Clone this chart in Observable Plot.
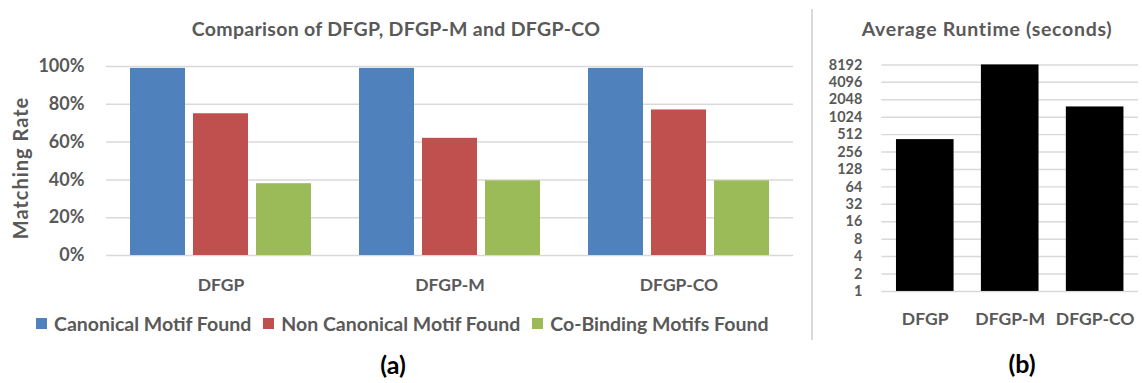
<!DOCTYPE html>
<html>
<head>
<meta charset="utf-8">
<script src="https://cdn.jsdelivr.net/npm/d3@7"></script>
<script src="https://cdn.jsdelivr.net/npm/@observablehq/plot@0.6"></script>
<style>
  html, body { margin: 0; padding: 0; background: #fff; overflow: hidden; }
  #page { position: relative; width: 1142px; height: 383px; overflow: hidden; font-family: Lato, "Open Sans", sans-serif; }
  .abs { position: absolute; white-space: nowrap; line-height: 1; }
  .title { font-weight: 700; color: #595959; transform: translateX(-50%); }
  .panel { font-weight: 700; font-size: 25px; color: #000; transform: translate(-50%, -50%); }
  .ylabel { font-weight: 700; font-size: 20px; letter-spacing: 1px; color: #595959; transform: translate(-50%, -50%) rotate(-90deg); }
  #legend { display: flex; align-items: center; font-weight: 700; font-size: 19.5px; color: #595959; }
  #legend .item { display: flex; align-items: center; margin-right: 12px; }
  #legend .sw { width: 11px; height: 11px; margin-right: 7px; }
  #sep { position: absolute; left: 811px; top: 9px; width: 1.5px; height: 331px; background: #d9d9d9; }
</style>
</head>
<body>
<div id="page">
  <div class="abs title" style="left:396px; top:19px; font-size:19.5px; letter-spacing:0.3px;">Comparison of DFGP, DFGP-M and DFGP-CO</div>
  <div class="abs title" style="left:987px; top:19px; font-size:19.5px; letter-spacing:0.7px;">Average Runtime (seconds)</div>
  <div class="abs ylabel" style="left:20px; top:168px;">Matching Rate</div>
  <div id="left" class="abs" style="left:0; top:0;"></div>
  <div id="right" class="abs" style="left:812px; top:0;"></div>
  <div id="sep"></div>
  <div id="legend" class="abs" style="left:36px; top:313.5px;"></div>
  <div class="abs panel" style="left:393px; top:364px;">(a)</div>
  <div class="abs panel" style="left:1022px; top:363px;">(b)</div>
</div>
<script>
// Methods compared in both panels
const methods = ["DFGP", "DFGP-M", "DFGP-CO"];

// Panel (a): matching rate per motif type
const motifTypes = ["Canonical Motif Found", "Non Canonical Motif Found", "Co-Binding Motifs Found"];
const motifColors = ["#4F81BD", "#C0504D", "#9BBB59"];
const canonicalRate = [0.99, 0.99, 0.99];
const nonCanonicalRate = [0.75, 0.62, 0.77];
const coBindingRate = [0.38, 0.395, 0.395];
const rateTicks = [0, 0.2, 0.4, 0.6, 0.8, 1];

// Panel (b): average runtime in seconds (log2 axis)
const runtimeSeconds = [420, 8192, 1540];
const runtimeTicks = [1, 2, 4, 8, 16, 32, 64, 128, 256, 512, 1024, 2048, 4096, 8192];

const rateSeries = [canonicalRate, nonCanonicalRate, coBindingRate];
const rateRows = methods.flatMap((m, i) =>
  motifTypes.map((t, j) => ({method: m, type: t, rate: rateSeries[j][i]}))
);
const runtimeRows = methods.map((m, i) => ({method: m, seconds: runtimeSeconds[i]}));

const baseStyle = {
  fontFamily: "Lato, 'Open Sans', sans-serif",
  fontWeight: 700,
  color: "#595959",
  background: "transparent",
  overflow: "visible"
};
const grid = {stroke: "#d9d9d9", strokeWidth: 1.5};

const left = Plot.plot({
  width: 800,
  height: 300,
  marginLeft: 105,
  marginRight: 7,
  marginTop: 66,
  marginBottom: 45,
  style: baseStyle,
  fx: {domain: methods, padding: 0, label: null},
  x: {domain: motifTypes, paddingInner: 0.134, paddingOuter: 0.37, axis: null},
  y: {domain: [0, 1], label: null},
  color: {domain: motifTypes, range: motifColors},
  marks: [
    Plot.ruleY(rateTicks, grid),
    Plot.barY(rateRows, {fx: "method", x: "type", y: "rate", fill: "type"}),
    Plot.axisY({ticks: rateTicks, tickFormat: d => Math.round(d * 100) + "%", tickSize: 0, tickPadding: 22,
                label: null, fontSize: 18, letterSpacing: 0.5}),
    Plot.axisFx({anchor: "bottom", tickSize: 0, tickPadding: 23, label: null, fontSize: 17.5})
  ]
});
document.getElementById("left").appendChild(left);

const right = Plot.plot({
  width: 338,
  height: 340,
  marginLeft: 71,
  marginRight: 4,
  marginTop: 66,
  marginBottom: 42,
  style: baseStyle,
  x: {domain: methods, paddingInner: 0.32, paddingOuter: 0.162, label: null},
  y: {type: "log", base: 2, domain: [1, 8192], label: null},
  marks: [
    Plot.ruleY(runtimeTicks, grid),
    Plot.barY(runtimeRows, {x: "method", y1: 1, y2: "seconds", fill: "#000"}),
    Plot.axisY({ticks: runtimeTicks, tickFormat: d => String(d), tickSize: 0, tickPadding: 20,
                label: null, fontSize: 14.8, letterSpacing: 1}),
    Plot.axisX({tickSize: 0, tickPadding: 22, label: null, fontSize: 18})
  ]
});
document.getElementById("right").appendChild(right);

// Legend for panel (a)
const legend = document.getElementById("legend");
motifTypes.forEach((t, j) => {
  const item = document.createElement("div");
  item.className = "item";
  const sw = document.createElement("div");
  sw.className = "sw";
  sw.style.background = motifColors[j];
  const label = document.createElement("span");
  label.textContent = t;
  item.appendChild(sw);
  item.appendChild(label);
  legend.appendChild(item);
});
</script>
</body>
</html>
